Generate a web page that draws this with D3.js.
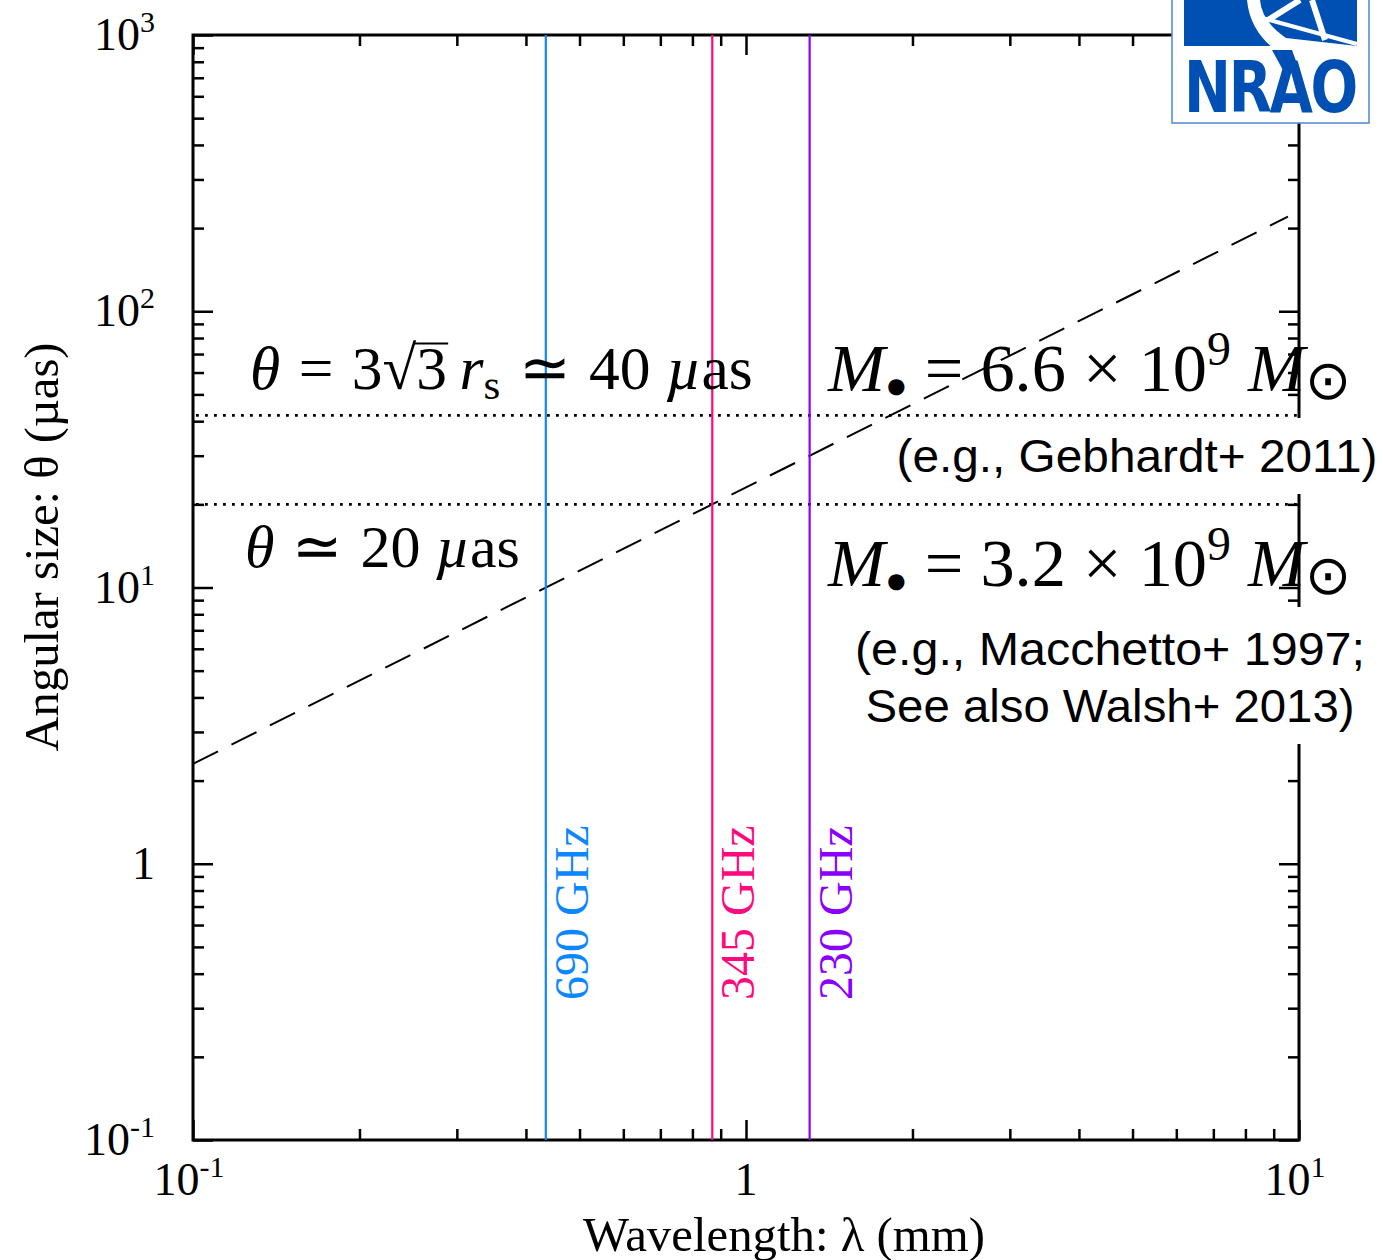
<!DOCTYPE html>
<html>
<head>
<meta charset="utf-8">
<script src="https://cdn.jsdelivr.net/npm/d3@7/dist/d3.min.js"></script>
<style>
  html, body { margin: 0; padding: 0; background: #fff; }
  svg { display: block; }
</style>
</head>
<body>
<script>
// Angular size of the M87 shadow vs. observing wavelength (diffraction limit of an Earth-sized array)

// ---- data ----
const xMajor = [0.1, 1, 10];
const xMajorLabels = [["10", "-1"], ["1", ""], ["10", "1"]];
const yMajor = [0.1, 1, 10, 100, 1000];
const yMajorLabels = [["10", "-1"], ["1", ""], ["10", "1"], ["10", "2"], ["10", "3"]];

const bandNames = ["690 GHz", "345 GHz", "230 GHz"];
const bandWavelength = [0.4345, 0.869, 1.3034];   // mm
const bandColors = ["#0d87ff", "#ff0a7e", "#8a00ff"];

// diffraction-limited resolution (dashed)
const resLambda = [0.1, 9.55];   // mm
const resTheta = [2.3, 220];     // µas

// predicted shadow sizes (dotted)
const shadowTheta = [42, 20];    // µas

// ---- layout ----
const W = 1383, H = 1260;
const L = 193, R = 1299, T = 35, B = 1140;

const svg = d3.select("body").append("svg").attr("width", W).attr("height", H);

const x = d3.scaleLog().domain([0.1, 10]).range([L, R]);
const y = d3.scaleLog().domain([0.1, 1000]).range([B, T]);

const minorsOf = (lo, hi) => {
  const out = [];
  for (let e = Math.log10(lo); e < Math.log10(hi); e++)
    for (let k = 2; k <= 9; k++) out.push(k * Math.pow(10, e));
  return out;
};
const xMinor = minorsOf(0.1, 10);
const yMinor = minorsOf(0.1, 1000);

const serif = "'Liberation Serif', 'Times New Roman', serif";
const sans = "'Liberation Sans', Arial, Helvetica, sans-serif";

// ---- axes: inward ticks on all four sides ----
function addAxis(gen, tx, ty, values, size) {
  const g = svg.append("g").attr("transform", `translate(${tx},${ty})`)
    .call(gen.tickValues(values).tickSize(-size).tickFormat(""));
  g.select(".domain").remove();
  g.selectAll(".tick line").attr("stroke", "#000").attr("stroke-width", 2.5);
  return g;
}
addAxis(d3.axisBottom(x), 0, B, xMajor, 20);
addAxis(d3.axisBottom(x), 0, B, xMinor, 11);
addAxis(d3.axisTop(x), 0, T, xMajor, 20);
addAxis(d3.axisTop(x), 0, T, xMinor, 11);
addAxis(d3.axisLeft(y), L, 0, yMajor, 20);
addAxis(d3.axisLeft(y), L, 0, yMinor, 11);
addAxis(d3.axisRight(y), R, 0, yMajor, 20);
addAxis(d3.axisRight(y), R, 0, yMinor, 11);

svg.append("rect")
  .attr("x", L).attr("y", T).attr("width", R - L).attr("height", B - T)
  .attr("fill", "none").attr("stroke", "#000").attr("stroke-width", 3);

// tick labels with superscript exponents
function powerLabel(sel, parts) {
  sel.append("tspan").text(parts[0]);
  if (parts[1]) {
    sel.append("tspan").attr("dy", -18).attr("font-size", 30).text(parts[1]);
  }
}
xMajor.forEach((v, i) => {
  const t = svg.append("text")
    .attr("x", x(v) + (xMajorLabels[i][1] ? -4 : 0)).attr("y", 1195)
    .attr("text-anchor", "middle")
    .attr("font-family", serif).attr("font-size", 46);
  powerLabel(t, xMajorLabels[i]);
});
yMajor.forEach((v, i) => {
  const t = svg.append("text")
    .attr("x", 155).attr("y", y(v) + 15)
    .attr("text-anchor", "end")
    .attr("font-family", serif).attr("font-size", 46);
  powerLabel(t, yMajorLabels[i]);
});

// axis titles
svg.append("text")
  .attr("x", 784).attr("y", 1251).attr("text-anchor", "middle")
  .attr("font-family", serif).attr("font-size", 48)
  .attr("textLength", 402).attr("lengthAdjust", "spacingAndGlyphs")
  .text("Wavelength: λ (mm)");
svg.append("text")
  .attr("transform", "translate(58,547) rotate(-90)")
  .attr("text-anchor", "middle")
  .attr("font-family", serif).attr("font-size", 48)
  .attr("textLength", 409).attr("lengthAdjust", "spacingAndGlyphs")
  .text("Angular size: θ (µas)");

// ---- plot content ----
const plot = svg.append("g");

// shadow-size levels
plot.selectAll("line.shadow").data(shadowTheta).enter().append("line")
  .attr("class", "shadow")
  .attr("x1", L + 3).attr("x2", R)
  .attr("y1", d => y(d)).attr("y2", d => y(d))
  .attr("stroke", "#000").attr("stroke-width", 2.8)
  .attr("stroke-dasharray", "2.8,6.2");

// array resolution
const resPts = resLambda.map((l, i) => [l, resTheta[i]]);
plot.append("path")
  .attr("d", d3.line().x(d => x(d[0])).y(d => y(d[1]))(resPts))
  .attr("fill", "none").attr("stroke", "#000").attr("stroke-width", 2)
  .attr("stroke-dasharray", "28,15");

// observing bands
plot.selectAll("line.band").data(bandWavelength).enter().append("line")
  .attr("class", "band")
  .attr("x1", d => x(d)).attr("x2", d => x(d))
  .attr("y1", T).attr("y2", B)
  .attr("stroke", (d, i) => bandColors[i]).attr("stroke-width", 2.2);

bandWavelength.forEach((d, i) => {
  svg.append("text")
    .attr("transform", `translate(${x(d) + 42},1000) rotate(-90)`)
    .attr("text-anchor", "start")
    .attr("font-family", serif).attr("font-size", 48)
    .attr("fill", bandColors[i])
    .text(bandNames[i]);
});

// ---- math annotations ----
// Each expression is laid out once, measured, then redrawn at the font size
// that makes it span the requested width. `gap` adds space (in em) before a run.
function mathText(px, py, len, segs) {
  const draw = base => {
    const t = svg.append("text")
      .attr("x", px).attr("y", py)
      .attr("font-family", serif).attr("font-size", base);
    let shift = 0;
    segs.forEach(s => {
      const sp = t.append("tspan").text(s.t);
      const target = (s.dy || 0) * base;
      if (target !== shift) { sp.attr("dy", target - shift); shift = target; }
      if (s.gap) sp.attr("dx", s.gap * base);
      if (s.i) sp.attr("font-style", "italic");
      if (s.fs) sp.attr("font-size", s.fs * base);
    });
    return t;
  };
  let t = draw(54);
  let bb = t.node().getBBox();
  t.remove();
  const base = 54 * len / bb.width;
  t = draw(base);

  // vinculum over the radicand
  let idx = 0;
  segs.forEach(s => {
    if (s.over) {
      const node = t.node();
      const rad = node.getExtentOfChar(idx - 1);
      const last = node.getExtentOfChar(idx + s.t.length - 1);
      svg.append("line")
        .attr("x1", rad.x + rad.width - 2).attr("x2", last.x + last.width + 1)
        .attr("y1", py - 0.74 * base).attr("y2", py - 0.74 * base)
        .attr("stroke", "#000").attr("stroke-width", 2);
    }
    idx += s.t.length;
  });
  return t;
}

const REL = 0.3;   // space either side of a relation, em
mathText(250, 389, 502, [
  { t: "θ", i: true }, { t: "=", gap: REL }, { t: "3√", gap: REL }, { t: "3", over: true },
  { t: "r", i: true, gap: 0.2 }, { t: "s", fs: 0.7, dy: 0.17 }, { t: "≃", gap: REL },
  { t: "40", gap: REL }, { t: "µ", i: true, gap: 0.25 }, { t: "as" }
]);
mathText(245, 567, 275, [
  { t: "θ", i: true }, { t: "≃", gap: REL }, { t: "20", gap: REL },
  { t: "µ", i: true, gap: 0.25 }, { t: "as" }
]);
mathText(828, 391, 524, [
  { t: "M", i: true }, { t: "●", fs: 0.55, dy: 0.1 }, { t: " = 6.6 × 10" },
  { t: "9", fs: 0.7, dy: -0.38 }, { t: " M", i: true }, { t: "⊙", fs: 0.8, dy: 0.12 }
]);
mathText(828, 586, 524, [
  { t: "M", i: true }, { t: "●", fs: 0.55, dy: 0.1 }, { t: " = 3.2 × 10" },
  { t: "9", fs: 0.7, dy: -0.38 }, { t: " M", i: true }, { t: "⊙", fs: 0.8, dy: 0.12 }
]);

// ---- references (on white boxes) ----
svg.append("rect").attr("x", 893).attr("y", 418).attr("width", 490).attr("height", 76).attr("fill", "#fff");
svg.append("text")
  .attr("x", 1137).attr("y", 472).attr("text-anchor", "middle")
  .attr("font-family", sans).attr("font-size", 46)
  .attr("textLength", 481).attr("lengthAdjust", "spacingAndGlyphs")
  .text("(e.g., Gebhardt+ 2011)");

svg.append("rect").attr("x", 850).attr("y", 607).attr("width", 520).attr("height", 137).attr("fill", "#fff");
svg.append("text")
  .attr("x", 1110).attr("y", 665).attr("text-anchor", "middle")
  .attr("font-family", sans).attr("font-size", 46)
  .attr("textLength", 510).attr("lengthAdjust", "spacingAndGlyphs")
  .text("(e.g., Macchetto+ 1997;");
svg.append("text")
  .attr("x", 1110).attr("y", 722).attr("text-anchor", "middle")
  .attr("font-family", sans).attr("font-size", 46)
  .attr("textLength", 489).attr("lengthAdjust", "spacingAndGlyphs")
  .text("See also Walsh+ 2013)");

// ---- NRAO logo ----
const logo = svg.append("g");
const blue = "#0050b4";
logo.append("rect").attr("x", 1172).attr("y", -4).attr("width", 197).attr("height", 127)
  .attr("fill", "#fff").attr("stroke", "#5a8ed6").attr("stroke-width", 1.6);
logo.append("rect").attr("x", 1184).attr("y", 0).attr("width", 173).attr("height", 46).attr("fill", blue);
// dish rim and feed legs
logo.append("path")
  .attr("d", "M1247,0 L1260,0 Q1262,22 1286,38 L1357,46 L1357,52 L1278,52 Q1250,32 1247,0 Z")
  .attr("fill", "#fff");
logo.append("path").attr("d", "M1268,20 L1300,0").attr("stroke", "#fff").attr("stroke-width", 6);
logo.append("path").attr("d", "M1312,0 L1325,40").attr("stroke", "#fff").attr("stroke-width", 6);
logo.append("path").attr("d", "M1262,18 L1357,44").attr("stroke", "#fff").attr("stroke-width", 4);
// dish mount running down into the lettering
logo.append("path").attr("d", "M1272,50 L1292,50 L1300,72 L1284,72 Z").attr("fill", blue);
// condensed lettering
const word = logo.append("text")
  .attr("font-family", "'DejaVu Sans', sans-serif").attr("font-weight", "bold")
  .attr("font-size", 72).attr("fill", blue)
  .attr("letter-spacing", -3)
  .text("NRAO");
const ww = word.node().getComputedTextLength();
word.attr("transform", `translate(1184,112) scale(${172 / ww},1)`);
</script>
</body>
</html>
